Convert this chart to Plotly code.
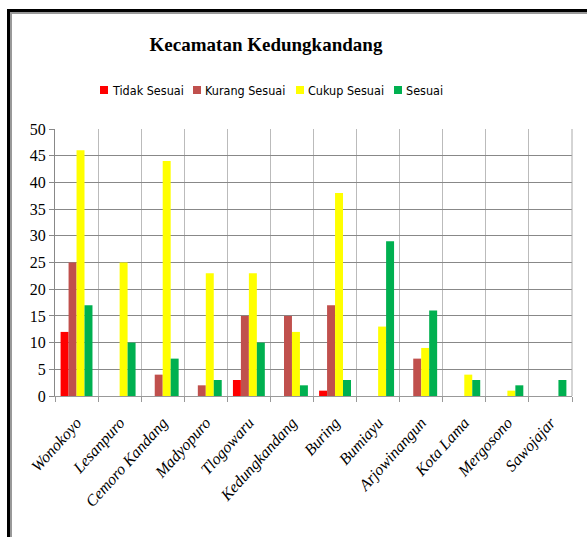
import plotly.graph_objects as go

categories = ["Wonokoyo", "Lesanpuro", "Cemoro Kandang", "Madyopuro", "Tlogowaru",
              "Kedungkandang", "Buring", "Bumiayu", "Arjowinangun", "Kota Lama",
              "Mergosono", "Sawojajar"]
tidak_sesuai = [12, 0, 0, 0, 3, 0, 1, 0, 0, 0, 0, 0]
kurang_sesuai = [25, 0, 4, 2, 15, 15, 17, 0, 7, 0, 0, 0]
cukup_sesuai = [46, 25, 44, 23, 23, 12, 38, 13, 9, 4, 1, 0]
sesuai = [17, 10, 7, 3, 10, 2, 3, 29, 16, 3, 2, 3]
series_names = ["Tidak Sesuai", "Kurang Sesuai", "Cukup Sesuai", "Sesuai"]
series_values = [tidak_sesuai, kurang_sesuai, cukup_sesuai, sesuai]
colors = ["#FF0000", "#C0504D", "#FFFF00", "#00B050"]
y_ticks = [0, 5, 10, 15, 20, 25, 30, 35, 40, 45, 50]

# layout (pixel geometry of the page)
W, H = 587, 537
L, R, T, B = 55, 15, 129, 141
pw, ph = W - L - R, H - T - B
legend_swatch_x = [100, 193, 296, 394]
legend_y = 90

def px(x):
    return (x - L) / pw

def py(y):
    return (H - B - y) / ph

fig = go.Figure()
for name, vals, col in zip(series_names, series_values, colors):
    fig.add_trace(go.Bar(x=categories, y=vals, name=name, showlegend=False,
                         marker=dict(color=col, line=dict(width=0))))

serif = "Liberation Serif, Times New Roman, serif"
narrow = "DejaVu Sans Condensed, Liberation Sans Narrow, Arial Narrow, sans-serif"

fig.update_layout(
    width=W, height=H,
    margin=dict(l=L, r=R, t=T, b=B, autoexpand=False),
    paper_bgcolor="white", plot_bgcolor="white",
    barmode="group", bargap=0.26, bargroupgap=0,
    title=dict(text="<b>Kecamatan Kedungkandang</b>", x=266 / W, xanchor="center",
               y=1 - 44 / H, yanchor="middle",
               font=dict(family=serif, size=19, color="black")),
    xaxis=dict(type="category", tickson="boundaries", showgrid=True, gridcolor="#BBBBBB",
               gridwidth=1, ticks="outside", ticklen=5, tickcolor="#999999",
               tickangle=-48, ticklabelstandoff=10,
               showline=True, linecolor="#999999", mirror=False,
               tickfont=dict(family=serif, size=16, color="black", style="italic")),
    yaxis=dict(range=[0, 50], tickvals=y_ticks, showgrid=True, gridcolor="#888888",
               gridwidth=1, ticks="outside", ticklen=5, tickcolor="#888888",
               showline=True, linecolor="#888888", zeroline=False,
               tickfont=dict(family=serif, size=16, color="black")),
)

# legend drawn as swatches + text
for name, col, sx in zip(series_names, colors, legend_swatch_x):
    fig.add_shape(type="rect", xref="paper", yref="paper",
                  x0=px(sx), x1=px(sx + 8), y0=py(legend_y - 4), y1=py(legend_y + 4),
                  fillcolor=col, line=dict(width=0))
    fig.add_annotation(text=name, xref="paper", yref="paper", x=px(sx + 10),
                       y=py(legend_y), xanchor="left", yanchor="middle", showarrow=False,
                       font=dict(family=narrow, size=12.5, color="black"))

# right edge of plot area
fig.add_shape(type="line", xref="paper", yref="paper", x0=1, x1=1, y0=0, y1=1,
              line=dict(color="#AAAAAA", width=1))
# outer frame (black with grey inner line)
fig.add_shape(type="line", xref="paper", yref="paper", x0=px(8.5), x1=px(8.5),
              y0=py(10), y1=py(540), line=dict(color="black", width=3))
fig.add_shape(type="line", xref="paper", yref="paper", x0=px(11), x1=px(11),
              y0=py(12.5), y1=py(540), line=dict(color="#999999", width=2))
fig.add_shape(type="line", xref="paper", yref="paper", x0=px(7), x1=px(590),
              y0=py(10.5), y1=py(10.5), line=dict(color="black", width=3))
fig.add_shape(type="line", xref="paper", yref="paper", x0=px(10), x1=px(590),
              y0=py(13), y1=py(13), line=dict(color="#999999", width=2))

fig.write_html("out.html", config={"displayModeBar": False},
               post_script="document.body.style.margin='0';document.body.style.overflow='hidden';")
